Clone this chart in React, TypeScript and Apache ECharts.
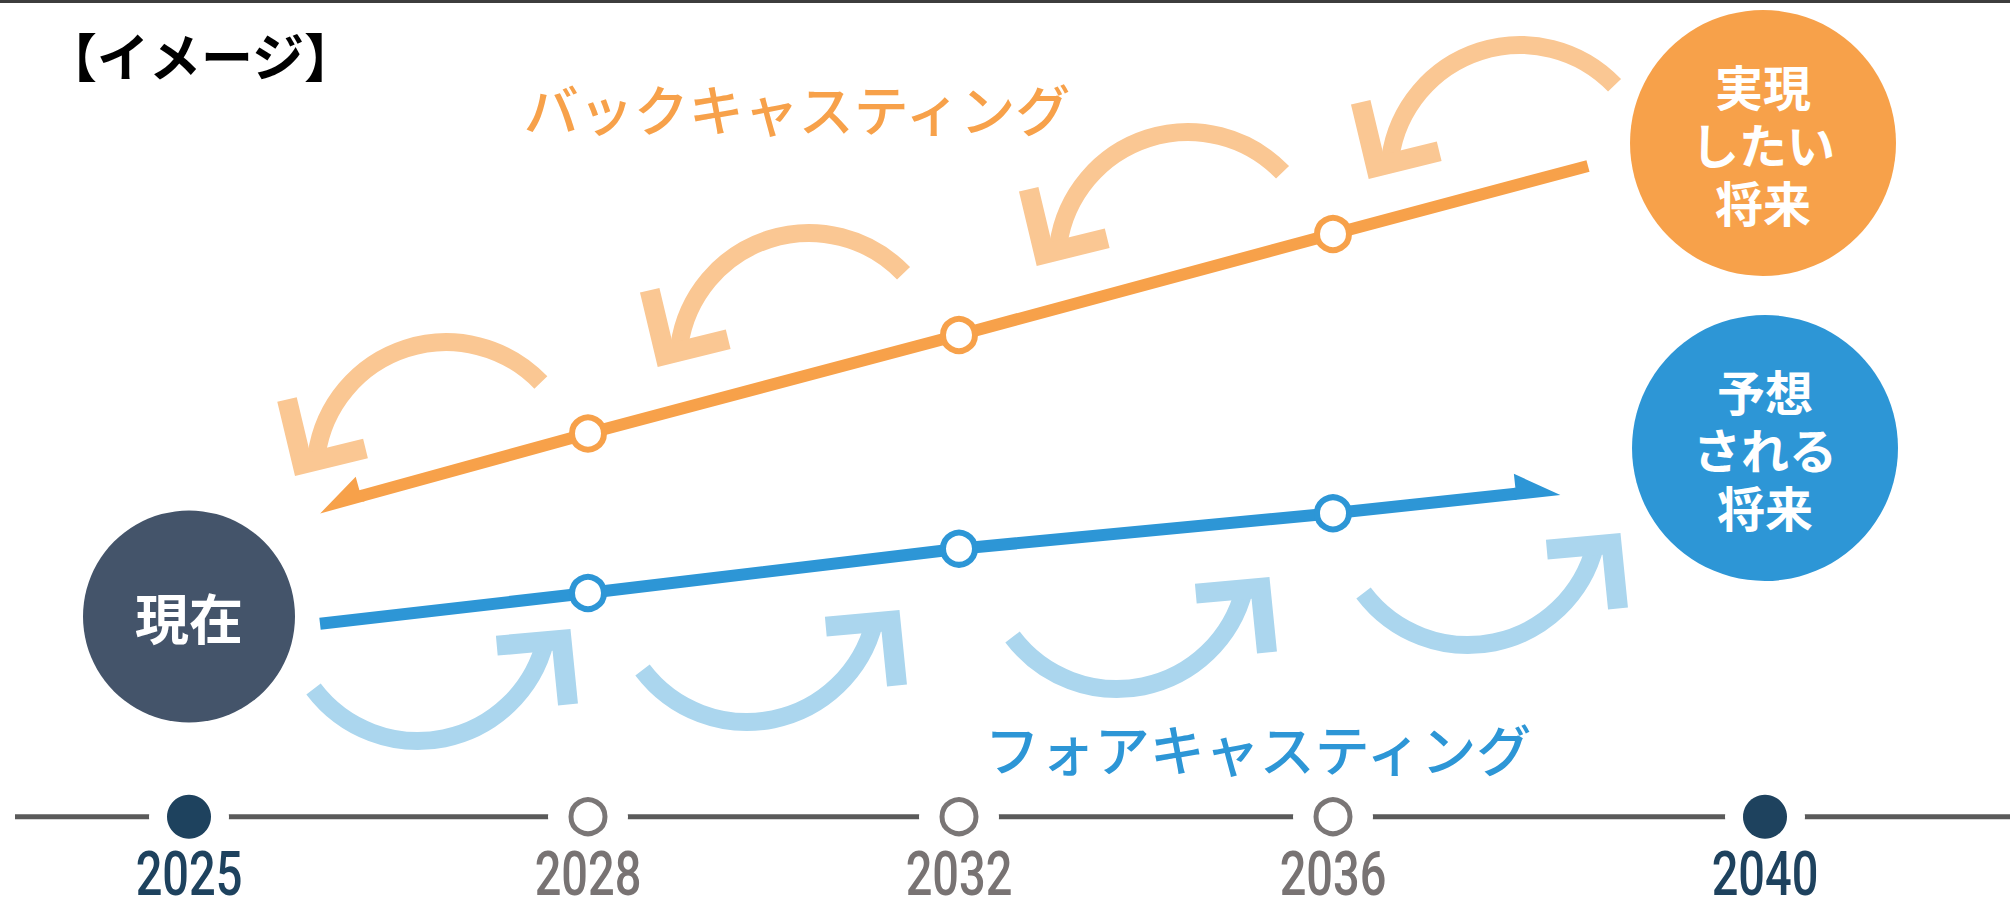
import React, { useEffect, useRef } from 'react';
import * as echarts from 'echarts';

// ---- data (x: position along the diagram, y: level) ----
const years = ['2025', '2028', '2032', '2036', '2040'];
const yearPos = [18.9, 58.8, 95.9, 133.3, 176.5];
const yearIsMilestone = [true, false, false, false, true];
const timelineLevel = 8.33;
const timelineStart = 1.5;
const timelineEnd = 201;

// backcasting path (orange): shaft start near the present ... goal
const backX = [36.1, 58.8, 95.9, 133.3, 158.8];
const backLevel = [40.4, 46.65, 56.5, 66.6, 73.4];
// forecasting path (blue): present ... shaft end before arrow head
const foreX = [32.0, 58.8, 95.9, 133.3, 151.6];
const foreLevel = [27.63, 30.7, 35.13, 38.67, 40.63];

// curved arrows (centres)
const backArrowX = [44.63, 80.9, 118.8, 152.0];
const backArrowLevel = [42.68, 53.6, 63.7, 72.4];
const foreArrowX = [41.8, 74.7, 111.7, 146.8];
const foreArrowLevel = [29.0, 30.9, 34.2, 38.6];

// bubbles
const bubbleNames = ['現在', '実現\nしたい\n将来', '予想\nされる\n将来'];
const bubbleX = [18.9, 176.3, 176.5];
const bubbleLevel = [28.35, 75.7, 45.2];

const titleText = '【イメージ】';
const backText = 'バックキャスティング';
const foreText = 'フォアキャスティング';

// ---- styles ----
const ORANGE = '#F7A14A';
const ORANGE_LIGHT = '#FAC793';
const BLUE = '#2D96D6';
const BLUE_LIGHT = '#ABD6EE';
const SLATE = '#44546A';
const NAVY = '#1E425E';
const GRAY_TXT = '#787373';
const GRAY_LINE = '#5A5A5A';
const GRAY_RING = '#7A7676';
const JP = '"Noto Sans CJK JP", "Noto Sans", sans-serif';

const deg = (d: number) => (d * Math.PI) / 180;

function curvedArrowSeries(xs: number[], ys: number[], color: string, kind: 'back' | 'fore') {
  const arc =
    kind === 'back'
      ? { start: deg(-172), end: deg(-43.8) }
      : { start: deg(14), end: deg(142.9) };
  const chevron =
    kind === 'back'
      ? [[-159.3, -73.7], [-143.9, -9.2], [-80.8, -24.7]]
      : [[78.8, 35.6], [143.5, 29.8], [150, 94.5]];
  return {
    type: 'custom',
    silent: true,
    z: 2,
    data: xs.map((x, i) => [x, ys[i]]),
    renderItem: (params: any, api: any) => {
      const c = api.coord([api.value(0), api.value(1)]);
      return {
        type: 'group',
        x: c[0],
        y: c[1],
        children: [
          {
            type: 'arc',
            shape: { cx: 0, cy: 0, r: 131, startAngle: arc.start, endAngle: arc.end, clockwise: true },
            style: { stroke: color, lineWidth: 18, fill: 'none', lineCap: 'butt' },
          },
          {
            type: 'polyline',
            shape: { points: chevron },
            style: { stroke: color, lineWidth: 20, fill: 'none', lineJoin: 'miter', lineCap: 'butt' },
          },
        ],
      };
    },
  };
}

function harpoonSeries(point: number[], prev: number[], color: string) {
  return {
    type: 'custom',
    silent: true,
    z: 6,
    data: [[point[0], point[1], prev[0], prev[1]]],
    renderItem: (params: any, api: any) => {
      const p = api.coord([api.value(0), api.value(1)]);
      const q = api.coord([api.value(2), api.value(3)]);
      let dx = p[0] - q[0];
      let dy = p[1] - q[1];
      const len = Math.hypot(dx, dy) || 1;
      dx /= len;
      dy /= len;
      let nx = dy;
      let ny = -dx;
      if (ny > 0) {
        nx = -nx;
        ny = -ny;
      }
      const w = 6;
      const head = 44;
      const barb = 20;
      const pt = (a: number, b: number) => [p[0] + a * dx + b * nx, p[1] + a * dy + b * ny];
      return {
        type: 'polygon',
        shape: { points: [pt(-2, -w), pt(head, -w), pt(0, barb), pt(0, w), pt(-2, w)] },
        style: { fill: color },
      };
    },
  };
}

function pathSeries(xs: number[], ys: number[], color: string) {
  const last = xs.length - 1;
  return {
    type: 'line',
    silent: true,
    z: 5,
    symbol: 'circle',
    symbolSize: 32,
    itemStyle: { color: '#fff', borderColor: color, borderWidth: 6, opacity: 1 },
    lineStyle: { color, width: 12, cap: 'butt' },
    data: xs.map((x, i) =>
      i === 0 || i === last ? { value: [x, ys[i]], symbol: 'none' } : { value: [x, ys[i]] }
    ),
  };
}

export default function App() {
  const ref = useRef<HTMLDivElement>(null);

  useEffect(() => {
    document.body.style.margin = '0';
    if (!ref.current) return;
    const chart = echarts.init(ref.current, undefined, { renderer: 'svg' });
    const option: any = {
      animation: false,
      backgroundColor: '#ffffff',
      grid: { left: 0, right: 0, top: 0, bottom: 0 },
      xAxis: { type: 'value', min: 0, max: 201, show: false },
      yAxis: { type: 'value', min: 0, max: 90, show: false },
      graphic: [
        { type: 'rect', shape: { x: 0, y: 0, width: 2010, height: 3 }, style: { fill: '#3d3d3d' } },
        {
          type: 'text',
          x: 45,
          y: 54,
          style: { text: titleText, fill: '#000', fontSize: 52, fontWeight: 'bold', fontFamily: JP, verticalAlign: 'middle' },
        },
        {
          type: 'text',
          x: 797,
          y: 107,
          style: { text: backText, fill: ORANGE, fontSize: 55, fontWeight: 500, fontFamily: JP, align: 'center', verticalAlign: 'middle' },
        },
        {
          type: 'text',
          x: 1258,
          y: 747,
          style: { text: foreText, fill: BLUE, fontSize: 55, fontWeight: 500, fontFamily: JP, align: 'center', verticalAlign: 'middle' },
        },
      ],
      series: [
        {
          type: 'line',
          silent: true,
          z: 1,
          symbol: 'none',
          lineStyle: { color: GRAY_LINE, width: 5 },
          data: [
            [timelineStart, timelineLevel],
            [timelineEnd, timelineLevel],
          ],
        },
        {
          type: 'scatter',
          silent: true,
          z: 2,
          symbolSize: 80,
          itemStyle: { color: '#fff', opacity: 1 },
          data: yearPos.map((x) => [x, timelineLevel]),
        },
        {
          type: 'scatter',
          silent: true,
          z: 3,
          data: yearPos.map((x, i) =>
            yearIsMilestone[i]
              ? { value: [x, timelineLevel], symbolSize: 44, itemStyle: { color: NAVY, opacity: 1 } }
              : {
                  value: [x, timelineLevel],
                  symbolSize: 34,
                  itemStyle: { color: '#fff', borderColor: GRAY_RING, borderWidth: 5, opacity: 1 },
                }
          ),
        },
        {
          type: 'custom',
          silent: true,
          z: 3,
          data: yearPos.map((x, i) => [x, timelineLevel, i]),
          renderItem: (params: any, api: any) => {
            const i = api.value(2);
            const c = api.coord([api.value(0), api.value(1)]);
            return {
              type: 'text',
              x: c[0],
              y: c[1] + 58,
              scaleX: 0.77,
              style: {
                text: years[i],
                fill: yearIsMilestone[i] ? NAVY : GRAY_TXT,
                fontSize: 61,
                lineHeight: 46,
                fontWeight: 500,
                fontFamily: 'Roboto, "Liberation Sans", sans-serif',
                align: 'center',
                verticalAlign: 'middle',
              },
            };
          },
        },
        curvedArrowSeries(backArrowX, backArrowLevel, ORANGE_LIGHT, 'back'),
        curvedArrowSeries(foreArrowX, foreArrowLevel, BLUE_LIGHT, 'fore'),
        pathSeries(backX, backLevel, ORANGE),
        pathSeries(foreX, foreLevel, BLUE),
        harpoonSeries([backX[0], backLevel[0]], [backX[1], backLevel[1]], ORANGE),
        harpoonSeries([foreX[4], foreLevel[4]], [foreX[3], foreLevel[3]], BLUE),
        {
          type: 'scatter',
          silent: true,
          z: 7,
          data: bubbleNames.map((name, i) => ({
            name,
            value: [bubbleX[i], bubbleLevel[i]],
            symbolSize: i === 0 ? 212 : 266,
            itemStyle: { color: i === 0 ? SLATE : i === 1 ? ORANGE : BLUE, opacity: 1 },
            label: {
              show: true,
              position: 'inside',
              formatter: '{b}',
              color: '#fff',
              fontFamily: JP,
              fontWeight: 'bold',
              fontSize: i === 0 ? 54 : 48,
              lineHeight: 58,
            },
          })),
        },
      ],
    };
    chart.setOption(option);
    return () => chart.dispose();
  }, []);

  return <div ref={ref} style={{ width: 2010, height: 900 }} />;
}
